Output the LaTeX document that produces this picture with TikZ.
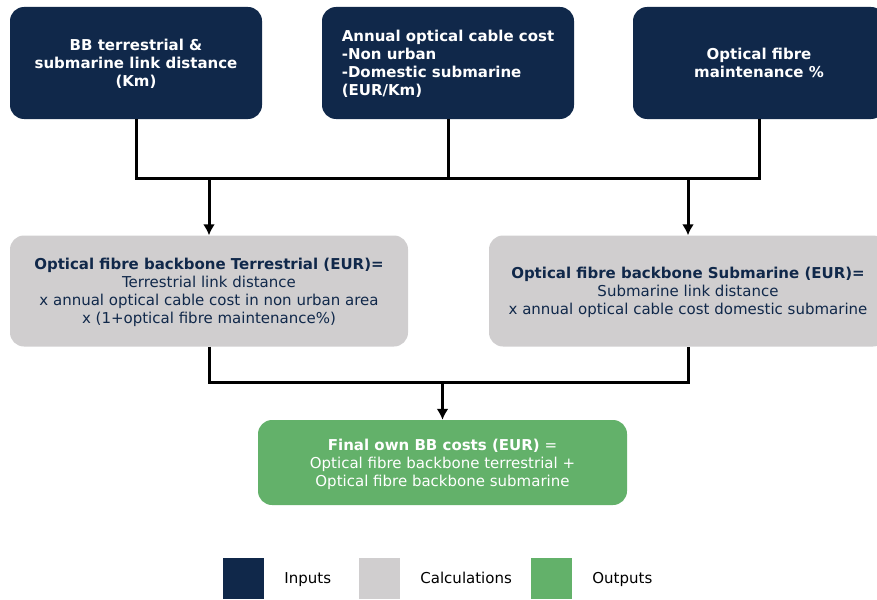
\documentclass[tikz,border=0pt]{standalone}
\usepackage{fontspec}
\setmainfont{DejaVu Sans}
\usetikzlibrary{arrows.meta}
\usetikzlibrary{positioning}

\definecolor{navy}{HTML}{10284A}
\definecolor{calcgrey}{HTML}{D0CECF}
\definecolor{outgreen}{HTML}{63B16A}

\tikzset{
  inbox/.style={fill=navy, text=white, rounded corners=14pt,
    minimum width=252pt, minimum height=112pt, text depth=-0.5pt,
    font=\bfseries\fontsize{15}{18}\selectfont},
  calcbox/.style={fill=calcgrey, text=navy, rounded corners=14pt,
    minimum width=398pt, minimum height=111pt, align=center, text depth=-2.5pt,
    font=\fontsize{15}{18}\selectfont},
  outbox/.style={fill=outgreen, text=white, rounded corners=14pt,
    minimum width=369pt, minimum height=85pt, align=center, text depth=-4.5pt,
    font=\fontsize{15}{18}\selectfont},
  keybox/.style={minimum size=41pt, inner sep=0pt},
  keytext/.style={inner sep=0pt, text height=11pt, text depth=2pt,
    font=\fontsize{15}{18}\selectfont},
  link/.style={line width=3pt},
  flow/.style={link, -{Latex[length=11pt,width=12pt]}},
}

\begin{document}
\begin{tikzpicture}[x=1pt,y=-1pt]
  \useasboundingbox (0,0) rectangle (877,599);
  \clip (0,0) rectangle (877,599);

  % inputs
  \node[inbox, align=center] (dist) at (136,63) {BB terrestrial \&\\submarine link distance\\(Km)};
  \node[inbox, align=left] (cost) at (448,63) {Annual optical cable cost\\-Non urban\\-Domestic submarine\\(EUR/Km)};
  \node[inbox, align=center] (maint) at (759,63) {Optical fibre\\maintenance \%};

  % calculations
  \node[calcbox] (terr) at (209,291) {\textbf{Optical fibre backbone Terrestrial (EUR)=}\\Terrestrial link distance\\x annual optical cable cost in non urban area\\x (1+optical fibre maintenance\%)};
  \node[calcbox] (sub) at (688,291) {\textbf{Optical fibre backbone Submarine (EUR)=}\\Submarine link distance\\x annual optical cable cost domestic submarine};

  % output
  \node[outbox] (final) at (442.5,462.5) {\textbf{Final own BB costs (EUR)} =\\Optical fibre backbone terrestrial +\\Optical fibre backbone submarine};

  % connectors
  \coordinate (bus) at (0,178);
  \coordinate (bus2) at (0,382);
  \draw[link] (dist.south) |- (maint.south |- bus) -- (maint.south);
  \draw[link] (cost.south) -- (cost.south |- bus);
  \draw[flow] (terr.north |- bus) -- (terr.north);
  \draw[flow] (sub.north |- bus) -- (sub.north);
  \draw[link] (terr.south) |- (sub.south |- bus2) -- (sub.south);
  \draw[flow] (final.north |- bus2) -- (final.north);

  % legend
  \node[keybox, fill=navy] (keyin) at (243.5,578.5) {};
  \node[keybox, fill=calcgrey] (keycalc) at (379.5,578.5) {};
  \node[keybox, fill=outgreen] (keyout) at (551.5,578.5) {};
  \node[keytext, right=20pt of keyin] {Inputs};
  \node[keytext, right=20pt of keycalc] {Calculations};
  \node[keytext, right=20pt of keyout] {Outputs};
\end{tikzpicture}
\end{document}
